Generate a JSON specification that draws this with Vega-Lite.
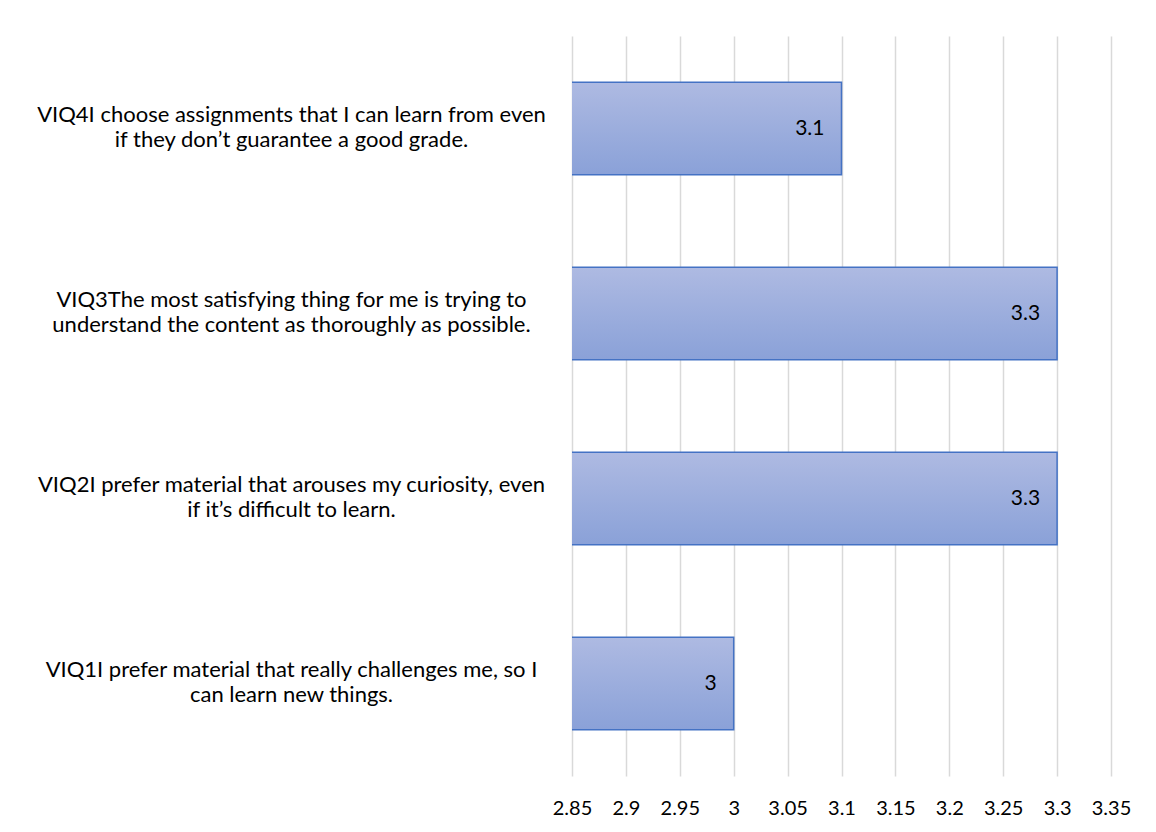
{
  "$schema": "https://vega.github.io/schema/vega-lite/v6.json",
  "autosize": {"type": "none"},
  "width": 539,
  "height": 740,
  "padding": {"left": 572, "top": 36, "right": 45, "bottom": 56},
  "background": "white",
  "config": {
    "font": "Lato",
    "view": {"stroke": null},
    "axis": {"labelFont": "Lato", "labelColor": "#000000", "domain": false, "ticks": false}
  },
  "data": {
    "values": [
      {"item": "VIQ4I choose assignments that I can learn from even|if they don’t guarantee a good grade.", "score": 3.1},
      {"item": "VIQ3The most satisfying thing for me is trying to|understand the content as thoroughly as possible.", "score": 3.3},
      {"item": "VIQ2I prefer material that arouses my curiosity, even|if it’s difficult to learn.", "score": 3.3},
      {"item": "VIQ1I prefer material that really challenges me, so I|can learn new things.", "score": 3.0}
    ]
  },
  "encoding": {
    "y": {
      "field": "item",
      "type": "nominal",
      "sort": null,
      "title": null,
      "scale": {"paddingInner": 0.5, "paddingOuter": 0.25},
      "axis": {
        "labelExpr": "split(datum.label, '|')",
        "labelAlign": "center",
        "labelBaseline": "middle",
        "labelPadding": 281,
        "labelOffset": -14,
        "labelLimit": 0,
        "labelFontSize": 22,
        "labelLineHeight": 25,
        "grid": false
      }
    },
    "x": {
      "field": "score",
      "type": "quantitative",
      "title": null,
      "scale": {"domain": [2.85, 3.35], "zero": false, "nice": false},
      "axis": {
        "values": [2.85, 2.9, 2.95, 3, 3.05, 3.1, 3.15, 3.2, 3.25, 3.3, 3.35],
        "format": "~g",
        "labelFontSize": 20,
        "labelPadding": 22,
        "labelFlush": false,
        "grid": true,
        "gridColor": "#D9D9D9",
        "gridWidth": 1.5
      }
    }
  },
  "layer": [
    {
      "mark": {
        "type": "bar",
        "clip": true,
        "stroke": "#4472C4",
        "strokeWidth": 1.5,
        "color": {
          "gradient": "linear",
          "x1": 0, "y1": 0, "x2": 0, "y2": 1,
          "stops": [
            {"offset": 0, "color": "#AEBAE2"},
            {"offset": 1, "color": "#8AA1D8"}
          ]
        }
      }
    },
    {
      "mark": {"type": "text", "align": "right", "baseline": "middle", "dx": -17, "fontSize": 21, "color": "#000000", "font": "Lato"},
      "encoding": {"text": {"field": "score", "type": "quantitative", "format": "~g"}}
    }
  ]
}
